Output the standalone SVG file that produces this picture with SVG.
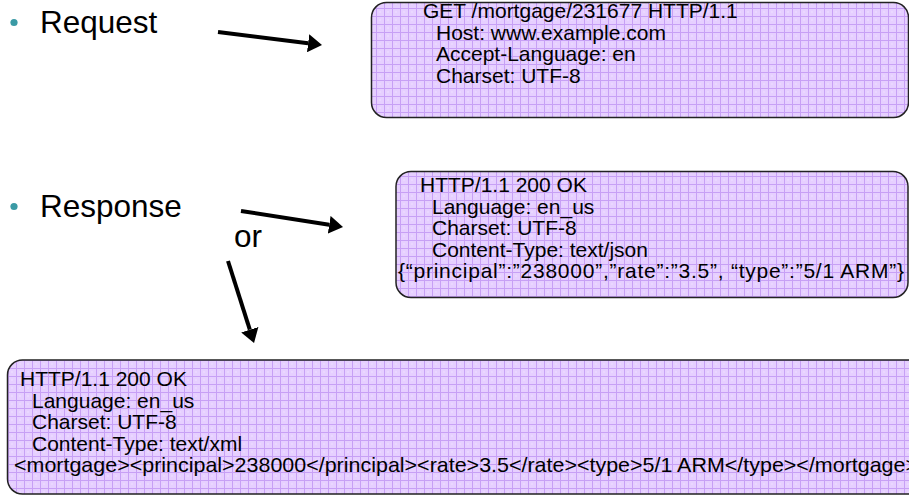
<svg xmlns="http://www.w3.org/2000/svg" width="909" height="496" viewBox="0 0 909 496">
<style>
.lbl{font-family:"Liberation Sans",Arial,sans-serif;font-size:31.5px;fill:#000}
.code{font-family:"Liberation Sans",Arial,sans-serif;font-size:21px;fill:#000}
.box{fill:url(#grid);stroke:#222;stroke-width:1.5}
.arr{stroke:#000;stroke-width:4;fill:none;marker-end:url(#head)}
.bullet{fill:#3a9aa5}
</style>
<defs>
<pattern id="grid" width="8" height="8" patternUnits="userSpaceOnUse">
<rect width="8" height="8" fill="#e6cfff"/>
<circle cx="4" cy="4" r="0.7" fill="#f2e6ff"/>
<path d="M0 0.5H8M0.5 0V8" stroke="#c7a0f5" stroke-width="1"/>
</pattern>
<marker id="head" viewBox="0 0 14 18" refX="0" refY="9" markerWidth="14" markerHeight="18" markerUnits="userSpaceOnUse" orient="auto">
<path d="M0 0L14 9L0 18z" fill="#000"/>
</marker>
</defs>
<g id="request-label">
<circle class="bullet" cx="14" cy="22.5" r="3.6"/>
<text class="lbl" x="40" y="33">Request</text>
</g>
<g id="response-label">
<circle class="bullet" cx="14" cy="206.5" r="3.6"/>
<text class="lbl" x="40" y="216.5">Response</text>
</g>
<g id="or-label">
<text class="lbl" x="234" y="246.5">or</text>
</g>
<g id="request-box">
<rect class="box" x="371.5" y="2.5" width="537" height="115" rx="15" ry="15"/>
<text class="code" x="423" y="18">GET /mortgage/231677 HTTP/1.1</text>
<text class="code" x="436" y="39.5">Host: www.example.com</text>
<text class="code" x="436" y="61">Accept-Language: en</text>
<text class="code" x="436" y="82.5">Charset: UTF-8</text>
</g>
<g id="json-response">
<rect class="box" x="396" y="171.5" width="512" height="126" rx="15" ry="15"/>
<text class="code" x="420" y="192">HTTP/1.1 200 OK</text>
<text class="code" x="432" y="213.5">Language: en_us</text>
<text class="code" x="432" y="235">Charset: UTF-8</text>
<text class="code" x="432" y="256.5">Content-Type: text/json</text>
<text class="code" x="398" y="278" textLength="506" lengthAdjust="spacing">{“principal”:”238000”,”rate”:”3.5”, “type”:”5/1 ARM”}</text>
</g>
<g id="xml-response">
<rect class="box" x="7.5" y="360" width="930" height="134" rx="15" ry="15"/>
<text class="code" x="20" y="386">HTTP/1.1 200 OK</text>
<text class="code" x="32" y="407.5">Language: en_us</text>
<text class="code" x="32" y="429">Charset: UTF-8</text>
<text class="code" x="32" y="450.5">Content-Type: text/xml</text>
<text class="code" x="14" y="472" textLength="904" lengthAdjust="spacingAndGlyphs">&lt;mortgage&gt;&lt;principal&gt;238000&lt;/principal&gt;&lt;rate&gt;3.5&lt;/rate&gt;&lt;type&gt;5/1 ARM&lt;/type&gt;&lt;/mortgage&gt;</text>
</g>
<g id="connectors">
<line class="arr" x1="218" y1="32" x2="308.1" y2="43.3"/>
<line class="arr" x1="241" y1="211" x2="329.2" y2="224.8"/>
<line class="arr" x1="228" y1="261" x2="249.8" y2="329.7"/>
</g>
</svg>
